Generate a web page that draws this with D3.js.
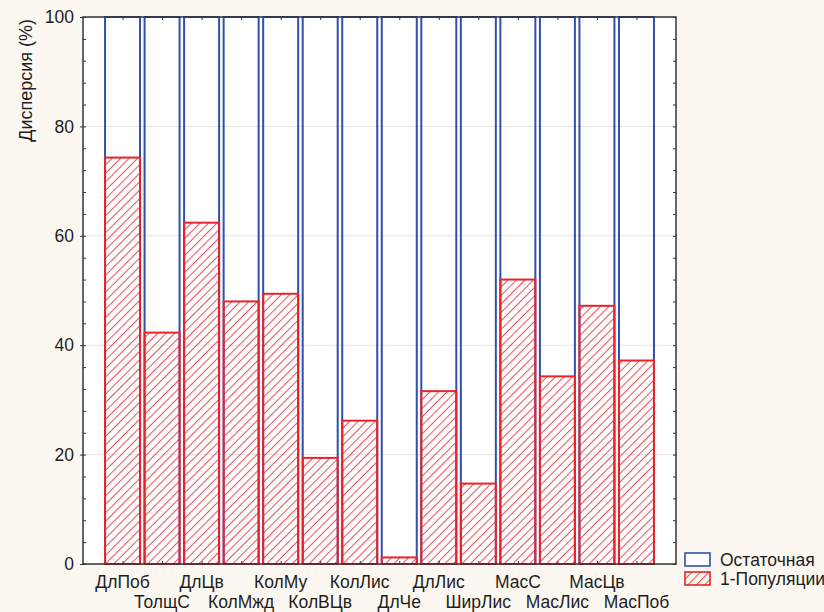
<!DOCTYPE html>
<html>
<head>
<meta charset="utf-8">
<script src="https://cdn.jsdelivr.net/npm/d3@7"></script>
<style>
  body { margin: 0; background: #fcf8f1; }
  text { font-family: "Liberation Sans", Arial, sans-serif; fill: #1e1e1e; }
</style>
</head>
<body>
<div id="chart"></div>
<script>
// variables (x categories) and explained share of variance, %
const categories = ['ДлПоб', 'ТолщС', 'ДлЦв', 'КолМжд', 'КолМу', 'КолВЦв', 'КолЛис',
    'ДлЧе', 'ДлЛис', 'ШирЛис', 'МасС', 'МасЛис', 'МасЦв', 'МасПоб'];
const populations = [74.3, 42.3, 62.4, 48.0, 49.4, 19.4, 26.2, 1.2, 31.6, 14.7, 52.0, 34.3, 47.2, 37.2];
const residual = populations.map((d) => 100 - d);
const seriesNames = ['Остаточная', '1-Популяции'];
const yTicks = [0, 20, 40, 60, 80, 100];

const fmt = {
    width: 824,
    height: 612,
    margins: { left: 83, right: 148, top: 17, bottom: 48 },
    blue: '#2f50ae',
    red: '#e8232b',
    ylabel: 'Дисперсия (%)',
    fontSize: '17.5px'
};

let width = fmt.width - fmt.margins.left - fmt.margins.right,
    height = fmt.height - fmt.margins.top - fmt.margins.bottom;

let x = d3.scaleLinear().domain([0, categories.length + 1]).range([0, width]),
    y = d3.scaleLinear().domain([0, 100]).range([height, 0]);

const step = x(1) - x(0);
const bw = step * 0.885;

let svg = d3.select('#chart').append('svg')
    .attr('width', fmt.width)
    .attr('height', fmt.height);

let defs = svg.append('defs');
defs.append('pattern')
    .attr('id', 'hatch')
    .attr('patternUnits', 'userSpaceOnUse')
    .attr('width', 6)
    .attr('height', 6)
    .attr('patternTransform', 'rotate(45)')
    .append('line')
    .attr('x1', 0).attr('y1', 0)
    .attr('x2', 0).attr('y2', 6)
    .attr('stroke', fmt.red)
    .attr('stroke-width', 1.6);

let g = svg.append('g')
    .attr('transform', 'translate(' + fmt.margins.left + ',' + fmt.margins.top + ')');

g.append('rect')
    .attr('width', width)
    .attr('height', height)
    .attr('fill', '#ffffff');

// faint grid
g.append('g').selectAll('line')
    .data(yTicks.slice(1, -1))
    .enter().append('line')
    .attr('x1', 0).attr('x2', width)
    .attr('y1', (d) => y(d)).attr('y2', (d) => y(d))
    .attr('stroke', '#e4e4e4');

// residual (full) bars
g.selectAll('.res')
    .data(residual)
    .enter().append('rect')
    .attr('x', (_, i) => x(i + 1) - bw / 2)
    .attr('y', y(100))
    .attr('width', bw)
    .attr('height', y(0) - y(100))
    .attr('fill', 'none')
    .attr('stroke', fmt.blue)
    .attr('stroke-width', 2);

// population share bars
g.selectAll('.pop')
    .data(populations)
    .enter().append('rect')
    .attr('x', (_, i) => x(i + 1) - bw / 2)
    .attr('y', (d) => y(d))
    .attr('width', bw)
    .attr('height', (d) => y(0) - y(d))
    .attr('fill', 'url(#hatch)')
    .attr('stroke', fmt.red)
    .attr('stroke-width', 2);

// axes
let minor = d3.range(0, 101, 4);

let left = g.append('g')
    .call(d3.axisLeft(y).tickValues(yTicks).tickSize(3).tickPadding(6));
left.selectAll('text').style('font-size', fmt.fontSize);
left.select('.domain').remove();

g.append('g')
    .call(d3.axisRight(y).tickValues(minor).tickSize(3).tickFormat(''))
    .select('.domain').remove();

g.append('g')
    .attr('transform', 'translate(' + width + ',0)')
    .call(d3.axisLeft(y).tickValues(minor).tickSize(3).tickFormat(''))
    .select('.domain').remove();

let centers = d3.range(1, categories.length + 1);

g.append('g')
    .call(d3.axisBottom(x).tickValues(centers).tickSize(3).tickFormat(''))
    .select('.domain').remove();

let bottom = g.append('g')
    .attr('transform', 'translate(0,' + height + ')')
    .call(d3.axisTop(x).tickValues(centers).tickSize(3).tickFormat(''));
bottom.select('.domain').remove();

g.selectAll('.tick line').attr('stroke', '#333');

// frame
g.append('rect')
    .attr('width', width)
    .attr('height', height)
    .attr('fill', 'none')
    .attr('stroke', '#333')
    .attr('stroke-width', 1.5);

// category labels in two staggered rows
g.selectAll('.xlab')
    .data(categories)
    .enter().append('text')
    .attr('x', (_, i) => x(i + 1))
    .attr('y', (_, i) => height + (i % 2 === 0 ? 24 : 44))
    .attr('text-anchor', 'middle')
    .style('font-size', fmt.fontSize)
    .text((d) => d);

svg.append('text')
    .attr('transform', 'rotate(-90)')
    .attr('x', -19)
    .attr('y', 32)
    .attr('text-anchor', 'end')
    .style('font-size', '18px')
    .text(fmt.ylabel);

// legend
let legend = svg.append('g')
    .attr('transform', 'translate(685,553)');

legend.append('rect')
    .attr('width', 25).attr('height', 13)
    .attr('fill', '#ffffff')
    .attr('stroke', fmt.blue)
    .attr('stroke-width', 1.6);

legend.append('rect')
    .attr('y', 19)
    .attr('width', 25).attr('height', 13)
    .attr('fill', 'url(#hatch)')
    .attr('stroke', fmt.red)
    .attr('stroke-width', 1.6);

legend.selectAll('.ltxt')
    .data(seriesNames)
    .enter().append('text')
    .attr('x', 35)
    .attr('y', (_, i) => 13 + i * 19)
    .style('font-size', fmt.fontSize)
    .text((d) => d);
</script>
</body>
</html>
